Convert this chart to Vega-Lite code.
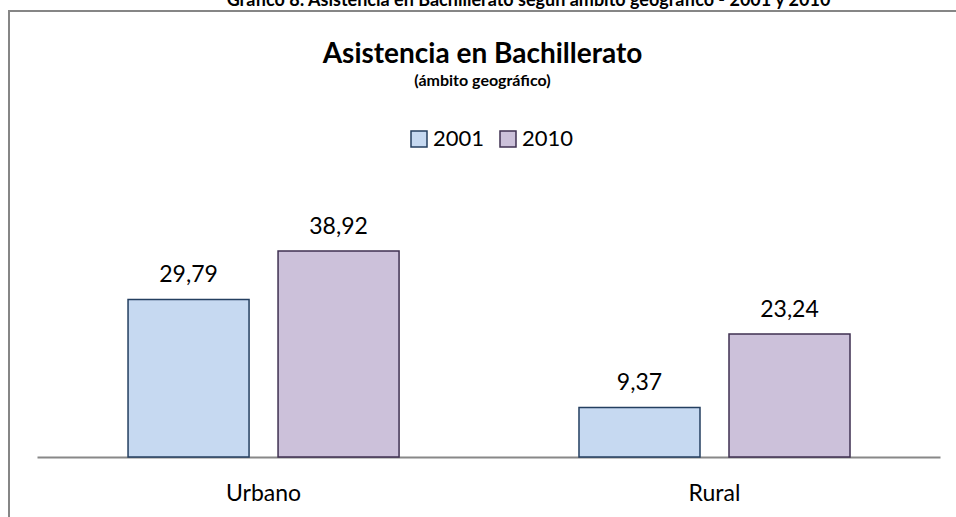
{
  "$schema": "https://vega.github.io/schema/vega-lite/v6.json",
  "autosize": {"type": "none"},
  "padding": {"left": 9, "top": 11, "right": 0, "bottom": 0},
  "width": 947,
  "height": 506,
  "background": "white",
  "title": {
    "text": "Asistencia en Bachillerato",
    "subtitle": "(ámbito geográfico)",
    "anchor": "middle",
    "offset": -98,
    "font": "Lato",
    "fontSize": 28,
    "fontWeight": "bold",
    "color": "#000000",
    "subtitleFont": "Lato",
    "subtitleFontSize": 16,
    "subtitleFontWeight": "bold",
    "subtitleColor": "#000000",
    "subtitlePadding": 4
  },
  "data": {
    "values": [
      {"ambito": "Urbano", "anio": "2001", "valor": 29.79},
      {"ambito": "Urbano", "anio": "2010", "valor": 38.92},
      {"ambito": "Rural", "anio": "2001", "valor": 9.37},
      {"ambito": "Rural", "anio": "2010", "valor": 23.24}
    ]
  },
  "encoding": {
    "x": {
      "field": "ambito",
      "type": "nominal",
      "sort": ["Urbano", "Rural"],
      "scale": {"paddingInner": 0.399, "paddingOuter": 0.2495, "align": 0.529}
    },
    "xOffset": {
      "field": "anio",
      "type": "nominal",
      "sort": ["2001", "2010"],
      "scale": {"paddingInner": 0.1933, "paddingOuter": 0}
    },
    "y": {
      "field": "valor",
      "type": "quantitative",
      "scale": {"domain": [-11.342, 84.31], "nice": false, "zero": false},
      "axis": null
    }
  },
  "layer": [
    {
      "mark": {"type": "bar", "strokeWidth": 1.5},
      "encoding": {
        "y2": {"datum": 0},
        "x": {
          "field": "ambito",
          "type": "nominal",
          "sort": ["Urbano", "Rural"],
          "axis": {
            "orient": "bottom",
            "title": null,
            "offset": -60,
            "ticks": false,
            "labelAngle": 0,
            "labelFont": "Lato",
            "labelFontSize": 23,
            "labelColor": "#000000",
            "labelPadding": 25,
            "domainColor": "#888888",
            "domainWidth": 2,
            "domainDash": [0, 28, 903, 100]
          }
        },
        "color": {
          "field": "anio",
          "type": "nominal",
          "title": null,
          "scale": {"domain": ["2001", "2010"], "range": ["#C6D9F1", "#CCC1DA"]},
          "legend": {
            "orient": "none",
            "legendX": 399,
            "legendY": 117,
            "direction": "horizontal",
            "symbolType": "square",
            "symbolSize": 256,
            "symbolStrokeWidth": 1.5,
            "symbolOpacity": 1,
            "labelFont": "Lato",
            "labelFontSize": 22,
            "labelColor": "#000000",
            "labelOffset": 3,
            "columnPadding": 12,
            "padding": 0
          }
        },
        "stroke": {
          "field": "anio",
          "type": "nominal",
          "title": null,
          "scale": {"domain": ["2001", "2010"], "range": ["#243F60", "#3F3151"]},
          "legend": null
        },
        "fillOpacity": {"value": 1}
      }
    },
    {
      "mark": {"type": "text", "baseline": "alphabetic", "dy": -17, "font": "Lato", "fontSize": 23, "color": "#000000"},
      "encoding": {
        "x": {
          "field": "ambito",
          "type": "nominal",
          "sort": ["Urbano", "Rural"],
          "axis": {
            "orient": "top",
            "title": "Gráfico 8: Asistencia en Bachillerato según ámbito geográfico - 2001 y 2010",
            "titleFont": "Lato",
            "titleFontSize": 18,
            "titleFontWeight": "bold",
            "titleColor": "#000000",
            "titleBaseline": "alphabetic",
            "titleAnchor": "middle",
            "titleY": -6,
            "titleX": 519,
            "labels": false,
            "ticks": false,
            "domain": false
          }
        },
        "text": {"field": "valor", "type": "quantitative", "format": ".2f"}
      }
    }
  ],
  "resolve": {"axis": {"x": "independent"}},
  "config": {
    "locale": {"number": {"decimal": ",", "thousands": ".", "grouping": [3], "currency": ["", " €"]}},
    "view": {"stroke": "#868686", "strokeWidth": 2, "strokeDash": [947, 1453, 506]},
    "axis": {"grid": false}
  }
}
